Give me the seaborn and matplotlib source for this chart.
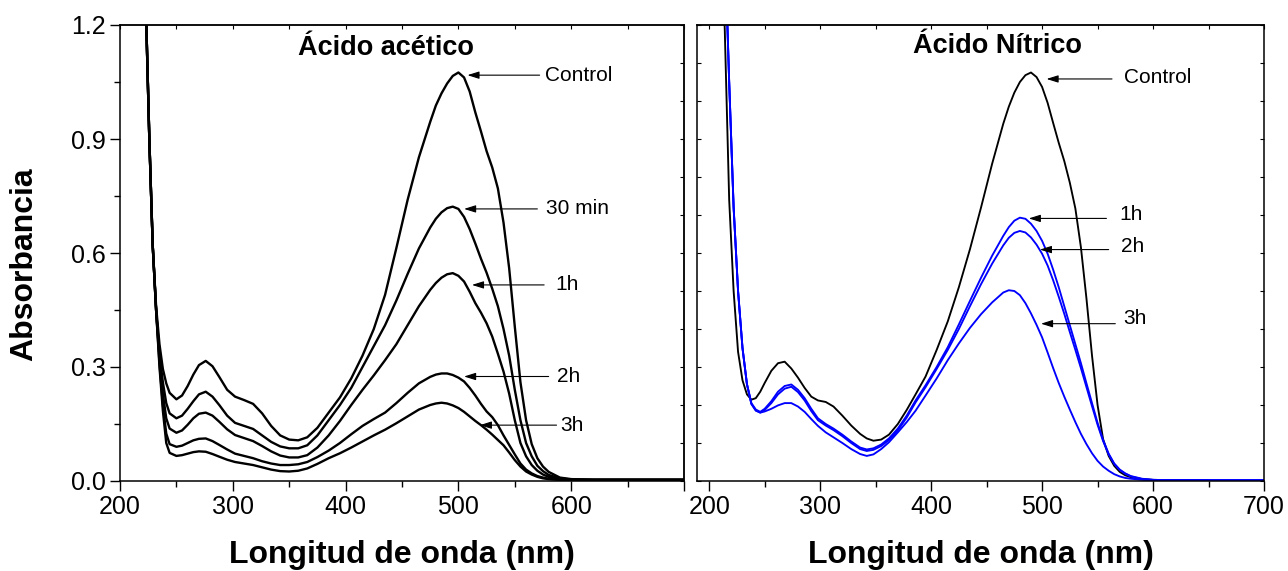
import numpy as np
import pandas as pd
import matplotlib
matplotlib.use("Agg")
import matplotlib.pyplot as plt
from matplotlib.ticker import MultipleLocator
import seaborn as sns

# ---------------- data: UV-Vis absorbance spectra ----------------
# Acetic acid treatment (left panel)
WL_ACETIC = [220, 223, 226, 229, 232, 235, 238, 241, 244, 250, 255, 260, 265, 270, 276,
             282, 288, 295, 302, 310, 318, 326, 334, 342, 350, 358, 366, 375, 385, 395,
             405, 415, 425, 435, 445, 455, 465, 475, 480, 485, 490, 495, 500, 505, 510,
             515, 520, 525, 530, 535, 540, 545, 550, 555, 560, 565, 570, 575, 580, 590,
             600, 620, 650, 700]
ACETIC_CONTROL = [1.45, 1.24, 0.90, 0.62, 0.46, 0.36, 0.295, 0.257, 0.232, 0.215,
                  0.225, 0.25, 0.28, 0.305, 0.316, 0.302, 0.274, 0.24, 0.222, 0.213,
                  0.203, 0.178, 0.145, 0.12, 0.109, 0.107, 0.115, 0.14, 0.18, 0.22,
                  0.27, 0.33, 0.40, 0.49, 0.613, 0.74, 0.852, 0.945, 0.988, 1.02,
                  1.046, 1.066, 1.075, 1.062, 1.025, 0.97, 0.92, 0.868, 0.825, 0.77,
                  0.68, 0.56, 0.406, 0.26, 0.16, 0.097, 0.06, 0.038, 0.024, 0.009,
                  0.005, 0.003, 0.003, 0.003]
ACETIC_30MIN = [1.45, 1.24, 0.90, 0.62, 0.45, 0.335, 0.26, 0.205, 0.178, 0.165,
                0.172, 0.19, 0.21, 0.228, 0.235, 0.222, 0.2, 0.172, 0.153, 0.145,
                0.137, 0.12, 0.103, 0.091, 0.086, 0.086, 0.094, 0.12, 0.16, 0.2,
                0.245, 0.3, 0.355, 0.41, 0.475, 0.545, 0.612, 0.667, 0.69, 0.707,
                0.718, 0.722, 0.716, 0.695, 0.663, 0.625, 0.585, 0.548, 0.506, 0.46,
                0.40, 0.33, 0.24, 0.16, 0.10, 0.065, 0.04, 0.026, 0.016, 0.007,
                0.004, 0.003, 0.003, 0.003]
ACETIC_1H = [1.45, 1.24, 0.90, 0.62, 0.45, 0.325, 0.23, 0.165, 0.138, 0.127,
             0.133, 0.148, 0.165, 0.177, 0.18, 0.172, 0.156, 0.136, 0.121, 0.113,
             0.105, 0.092, 0.078, 0.067, 0.062, 0.062, 0.068, 0.088, 0.12, 0.158,
             0.2, 0.24, 0.278, 0.318, 0.36, 0.41, 0.46, 0.503, 0.521, 0.535,
             0.544, 0.547, 0.54, 0.525, 0.498, 0.468, 0.443, 0.415, 0.38, 0.335,
             0.288, 0.23, 0.16, 0.1, 0.065, 0.042, 0.027, 0.017, 0.011, 0.005,
             0.003, 0.003, 0.003, 0.003]
ACETIC_2H = [1.45, 1.24, 0.90, 0.62, 0.45, 0.31, 0.20, 0.125, 0.097, 0.09,
             0.093, 0.1, 0.107, 0.111, 0.112, 0.105, 0.095, 0.083, 0.072, 0.066,
             0.06, 0.052, 0.046, 0.042, 0.042, 0.044, 0.05, 0.063, 0.08, 0.1,
             0.123, 0.145, 0.163, 0.18, 0.205, 0.232, 0.257, 0.274, 0.28, 0.283,
             0.283, 0.279, 0.272, 0.262, 0.245, 0.225, 0.203, 0.183, 0.168, 0.147,
             0.12, 0.095, 0.07, 0.046, 0.03, 0.02, 0.013, 0.009, 0.006, 0.004,
             0.003, 0.003, 0.003, 0.003]
ACETIC_3H = [1.45, 1.24, 0.90, 0.62, 0.45, 0.30, 0.185, 0.10, 0.074, 0.066,
             0.068, 0.072, 0.076, 0.078, 0.077, 0.071, 0.064, 0.056, 0.05, 0.046,
             0.042, 0.036, 0.03, 0.026, 0.025, 0.027, 0.033, 0.045, 0.06, 0.073,
             0.088, 0.104, 0.12, 0.135, 0.152, 0.17, 0.188, 0.2, 0.204, 0.206,
             0.204, 0.199, 0.192, 0.182, 0.17, 0.158, 0.147, 0.135, 0.122, 0.108,
             0.094, 0.075, 0.055, 0.038, 0.025, 0.017, 0.011, 0.007, 0.005, 0.003,
             0.003, 0.003, 0.003, 0.003]

# Nitric acid treatment (right panel)
WL_NITRIC = [210, 214, 218, 222, 226, 230, 234, 238, 242, 246, 250, 256, 262, 268, 274,
             280, 286, 292, 298, 305, 312, 320, 328, 336, 342, 348, 355, 362, 370, 378,
             386, 395, 405, 415, 425, 435, 445, 455, 465, 470, 475, 480, 485, 490, 495,
             500, 505, 510, 515, 520, 525, 530, 535, 540, 545, 550, 555, 560, 565, 570,
             575, 580, 590, 600, 620, 650, 700]
NITRIC_CONTROL = [1.5, 1.19, 0.74, 0.5, 0.34, 0.265, 0.228, 0.214, 0.218, 0.235,
                  0.258, 0.29, 0.31, 0.314, 0.296, 0.272, 0.245, 0.222, 0.212, 0.208,
                  0.196, 0.172, 0.146, 0.124, 0.112, 0.106, 0.109, 0.122, 0.15, 0.187,
                  0.228, 0.275, 0.345, 0.42, 0.51, 0.61, 0.72, 0.835, 0.94, 0.985,
                  1.022, 1.05, 1.068, 1.075, 1.063, 1.037, 0.995, 0.942, 0.89, 0.842,
                  0.785, 0.717, 0.615, 0.48, 0.33, 0.2, 0.11, 0.066, 0.04, 0.024,
                  0.015, 0.01, 0.005, 0.003, 0.002, 0.002, np.nan]
NITRIC_1H = [1.7, 1.42, 1.05, 0.72, 0.5, 0.35, 0.255, 0.205, 0.188, 0.182,
             0.19, 0.21, 0.235, 0.25, 0.254, 0.24, 0.218, 0.19, 0.165, 0.15,
             0.138, 0.122, 0.104, 0.088, 0.083, 0.086, 0.096, 0.112, 0.138, 0.172,
             0.212, 0.252, 0.3, 0.352, 0.412, 0.474, 0.535, 0.593, 0.645, 0.668,
             0.685, 0.693, 0.69, 0.677, 0.658, 0.632, 0.598, 0.556, 0.51, 0.46,
             0.41, 0.36, 0.31, 0.257, 0.205, 0.153, 0.108, 0.072, 0.046, 0.03,
             0.02, 0.013, 0.006, 0.003, 0.002, 0.002, 0.002]
NITRIC_2H = [1.7, 1.42, 1.05, 0.72, 0.5, 0.35, 0.255, 0.203, 0.186, 0.18,
             0.187, 0.205, 0.228, 0.243, 0.248, 0.234, 0.212, 0.184, 0.16, 0.146,
             0.134, 0.118, 0.1, 0.084, 0.079, 0.082, 0.092, 0.108, 0.133, 0.167,
             0.207, 0.247, 0.295, 0.345, 0.4, 0.46, 0.518, 0.572, 0.62, 0.64,
             0.653, 0.658, 0.654, 0.641, 0.622, 0.598, 0.567, 0.528, 0.485, 0.44,
             0.392, 0.345, 0.297, 0.247, 0.197, 0.148, 0.105, 0.07, 0.045, 0.029,
             0.019, 0.012, 0.005, 0.003, 0.002, 0.002, 0.002]
NITRIC_3H = [1.7, 1.42, 1.05, 0.72, 0.5, 0.35, 0.255, 0.203, 0.185, 0.18,
             0.183, 0.19, 0.199, 0.205, 0.205, 0.196, 0.182, 0.163, 0.145, 0.128,
             0.115, 0.1, 0.084, 0.071, 0.066, 0.07, 0.084, 0.102, 0.128, 0.155,
             0.185, 0.225, 0.27, 0.318, 0.362, 0.403, 0.439, 0.47, 0.496, 0.502,
             0.5, 0.489, 0.468, 0.441, 0.411, 0.378, 0.338, 0.297, 0.258, 0.222,
             0.188, 0.155, 0.124, 0.097, 0.073, 0.053, 0.038, 0.027, 0.018, 0.012,
             0.008, 0.006, 0.003, 0.002, 0.002, 0.002, 0.002]

ACETIC_SERIES = ["Control", "30 min", "1h", "2h", "3h"]
NITRIC_SERIES = ["Control", "1h", "2h", "3h"]

# label text, arrow tip (x, y), arrow tail x, text x, text y
ACETIC_NOTES = [("Control", (508, 1.068), 572, 577, 1.068),
                ("30 min", (505, 0.716), 570, 578, 0.716),
                ("1h", (512, 0.516), 576, 586, 0.516),
                ("2h", (505, 0.275), 580, 587, 0.275),
                ("3h", (519, 0.147), 587, 590, 0.147)]
NITRIC_NOTES = [("Control", (504, 1.058), 563, 574, 1.062),
                ("1h", (488, 0.691), 558, 570, 0.700),
                ("2h", (498, 0.609), 560, 571, 0.616),
                ("3h", (499, 0.414), 566, 573, 0.428)]


def long_frame(wl, series_names, series_values):
    rows = []
    for name, vals in zip(series_names, series_values):
        rows.append(pd.DataFrame({"wl": wl, "A": vals, "serie": name}))
    return pd.concat(rows, ignore_index=True).dropna()


df_acetic = long_frame(WL_ACETIC, ACETIC_SERIES,
                       [ACETIC_CONTROL, ACETIC_30MIN, ACETIC_1H, ACETIC_2H, ACETIC_3H])
df_nitric = long_frame(WL_NITRIC, NITRIC_SERIES,
                       [NITRIC_CONTROL, NITRIC_1H, NITRIC_2H, NITRIC_3H])

# ---------------- style ----------------
sns.set_style("ticks")
plt.rcParams["font.family"] = ["Liberation Sans", "DejaVu Sans"]
plt.rcParams["axes.linewidth"] = 1.1
plt.rcParams["text.color"] = "black"
plt.rcParams["axes.labelcolor"] = "black"
plt.rcParams["xtick.color"] = "black"
plt.rcParams["ytick.color"] = "black"
plt.rcParams["xtick.labelcolor"] = "black"
plt.rcParams["ytick.labelcolor"] = "black"

fig = plt.figure(figsize=(12.88, 5.71), dpi=100)
W, H = 1288, 571
ax1 = fig.add_axes([120 / W, 1 - 481 / H, (684 - 120) / W, 456 / H])
ax2 = fig.add_axes([697 / W, 1 - 481 / H, (1264 - 697) / W, 456 / H])

sns.lineplot(data=df_acetic, x="wl", y="A", hue="serie", units="serie", estimator=None,
             sort=False, palette={k: "black" for k in ACETIC_SERIES},
             linewidth=1.7, legend=False, ax=ax1)
sns.lineplot(data=df_nitric, x="wl", y="A", hue="serie", units="serie", estimator=None,
             sort=False, palette={"Control": "black", "1h": "#0000ff", "2h": "#0000ff",
                                  "3h": "#0000ff"},
             linewidth=1.35, legend=False, ax=ax2)

for ax in (ax1, ax2):
    ax.set_ylim(0, 1.2)
    ax.set_xlabel("")
    ax.set_ylabel("")
    for sp in ax.spines.values():
        sp.set_visible(True)
        sp.set_color("black")
    ax.xaxis.set_major_locator(MultipleLocator(100))
    ax.xaxis.set_minor_locator(MultipleLocator(50))
    ax.tick_params(axis="x", which="major", direction="out", length=7, width=1,
                   labelsize=18, pad=3, top=False)
    ax.tick_params(axis="x", which="minor", direction="out", length=4, width=1, top=False)
    top = ax.secondary_xaxis("top")
    top.xaxis.set_major_locator(MultipleLocator(50))
    top.tick_params(direction="in", length=3, width=0.8, labeltop=False)

# left panel axes
ax1.set_xlim(200, 700)
ax1.set_xticks([200, 300, 400, 500, 600, 700])
ax1.set_xticklabels(["200", "300", "400", "500", "600", ""])
ax1.yaxis.set_major_locator(MultipleLocator(0.3))
ax1.yaxis.set_minor_locator(MultipleLocator(0.15))
ax1.set_yticklabels([f"{v:.1f}" for v in ax1.get_yticks()])
ax1.tick_params(axis="y", which="major", direction="out", length=7, width=1,
                labelsize=18, right=False)
ax1.tick_params(axis="y", which="minor", direction="out", length=4, width=1, right=False)
ax1.set_ylim(0, 1.2)
rsec = ax1.secondary_yaxis("right")
rsec.yaxis.set_major_locator(MultipleLocator(0.1))
rsec.tick_params(direction="in", length=3, width=0.8, labelright=False)

# right panel axes
ax2.set_xlim(189, 700)
ax2.yaxis.set_major_locator(MultipleLocator(0.1))
ax2.yaxis.set_minor_locator(plt.NullLocator())
ax2.tick_params(axis="y", which="major", direction="in", length=3, width=0.8,
                left=True, right=True, labelleft=False)
ax2.set_ylim(0, 1.2)

# panel titles
ax1.text(436, 1.14, "Ácido acético", fontsize=19.5, fontweight="bold",
         ha="center", va="center")
ax2.text(460, 1.145, "Ácido Nítrico", fontsize=19.5, fontweight="bold",
         ha="center", va="center")

# arrows with labels
arrow_kw = dict(arrowstyle="-|>,head_length=0.7,head_width=0.22", color="black",
                lw=0.8, mutation_scale=10, shrinkA=0, shrinkB=0)
for ax, notes in ((ax1, ACETIC_NOTES), (ax2, NITRIC_NOTES)):
    for label, tip, tail_x, tx, ty in notes:
        ax.annotate("", xy=tip, xytext=(tail_x, tip[1]), arrowprops=arrow_kw)
        ax.text(tx, ty, label, fontsize=15, ha="left", va="center")

# axis labels
fig.text(24 / W, 1 - 264 / H, "Absorbancia", rotation=90, fontsize=23,
         fontweight="bold", ha="center", va="center")
fig.text((120 + 684) / 2 / W, 1 - 555 / H, "Longitud de onda (nm)", fontsize=23,
         fontweight="bold", ha="center", va="center")
fig.text((697 + 1264) / 2 / W, 1 - 555 / H, "Longitud de onda (nm)", fontsize=23,
         fontweight="bold", ha="center", va="center")

fig.savefig("out.png", dpi=100)
